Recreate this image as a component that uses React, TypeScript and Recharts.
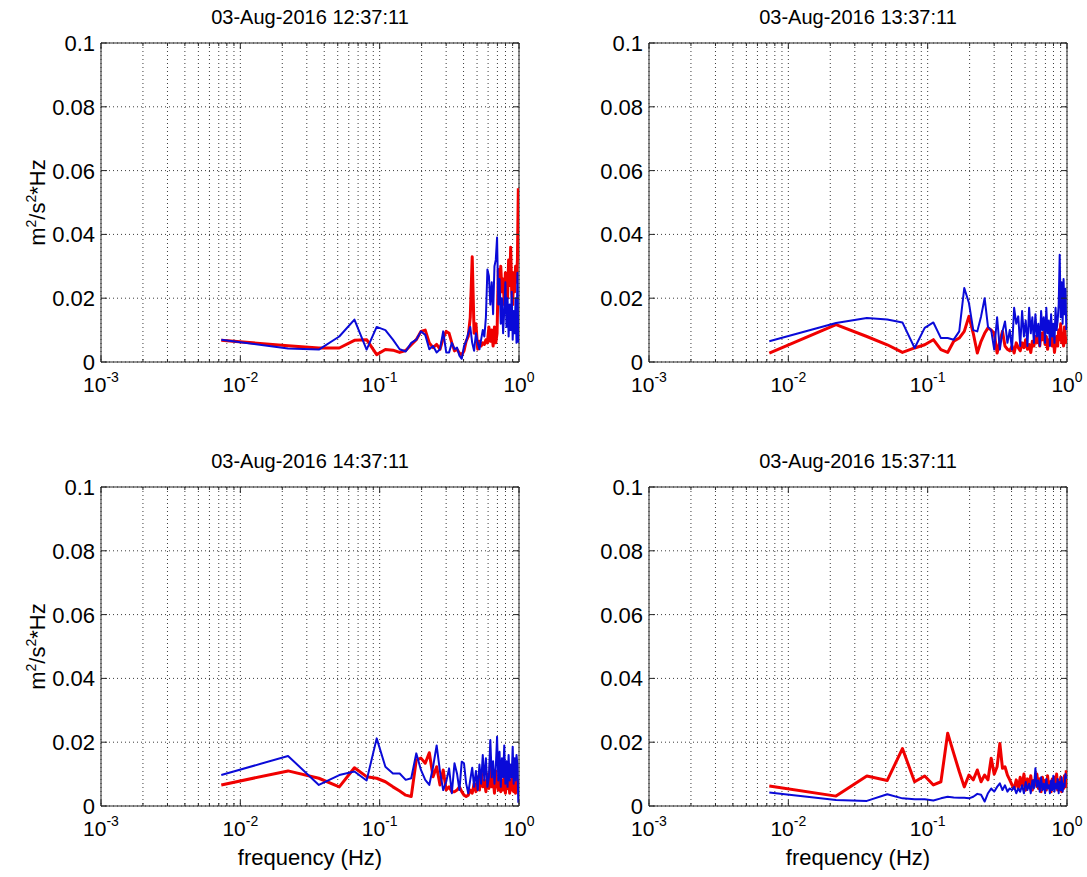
import React from 'react'
import { LineChart, Line, XAxis, YAxis, CartesianGrid, ReferenceArea } from 'recharts'

/* ── data: spectral density per frequency bin (Hz) ─────────────── */
const FREQ = [
  0.0073, 0.0220, 0.0366, 0.0513, 0.0659, 0.0806, 0.0952, 0.1099, 0.1245, 0.1392,
  0.1538, 0.1685, 0.1831, 0.1978, 0.2124, 0.2271, 0.2417, 0.2564, 0.2710, 0.2857,
  0.3003, 0.3150, 0.3296, 0.3443, 0.3589, 0.3736, 0.3882, 0.4029, 0.4175, 0.4322,
  0.4468, 0.4615, 0.4761, 0.4908, 0.5054, 0.5201, 0.5347, 0.5494, 0.5640, 0.5787,
  0.5933, 0.6080, 0.6226, 0.6373, 0.6519, 0.6666, 0.6812, 0.6959, 0.7105, 0.7252,
  0.7398, 0.7545, 0.7691, 0.7838, 0.7984, 0.8131, 0.8277, 0.8424, 0.8570, 0.8717,
  0.8863, 0.9010, 0.9156, 0.9303, 0.9449, 0.9596, 0.9742, 0.9889,
]

const RED_1237 = [
  0.0068, 0.0051, 0.0044, 0.0044, 0.0068, 0.0070, 0.0023, 0.0039, 0.0037, 0.0030,
  0.0036, 0.0054, 0.0070, 0.0096, 0.0100, 0.0060, 0.0045, 0.0055, 0.0040, 0.0075,
  0.0096, 0.0090, 0.0060, 0.0035, 0.0040, 0.0028, 0.0022, 0.0035, 0.0065, 0.0080,
  0.0140, 0.0330, 0.0090, 0.0120, 0.0040, 0.0065, 0.0050, 0.0060, 0.0055, 0.0070,
  0.0060, 0.0110, 0.0065, 0.0100, 0.0050, 0.0110, 0.0060, 0.0090, 0.0290, 0.0200,
  0.0300, 0.0220, 0.0260, 0.0180, 0.0280, 0.0260, 0.0200, 0.0320, 0.0240, 0.0360,
  0.0220, 0.0180, 0.0280, 0.0220, 0.0300, 0.0250, 0.0320, 0.0545,
]
const BLUE_1237 = [
  0.0070, 0.0042, 0.0039, 0.0080, 0.0133, 0.0039, 0.0110, 0.0100, 0.0070, 0.0040,
  0.0033, 0.0060, 0.0070, 0.0096, 0.0085, 0.0040, 0.0050, 0.0030, 0.0040, 0.0096,
  0.0030, 0.0030, 0.0060, 0.0040, 0.0045, 0.0020, 0.0010, 0.0050, 0.0065, 0.0090,
  0.0110, 0.0060, 0.0035, 0.0090, 0.0060, 0.0040, 0.0070, 0.0100, 0.0080, 0.0140,
  0.0290, 0.0270, 0.0180, 0.0250, 0.0150, 0.0300, 0.0320, 0.0390, 0.0180, 0.0260,
  0.0120, 0.0200, 0.0090, 0.0160, 0.0250, 0.0110, 0.0200, 0.0080, 0.0180, 0.0100,
  0.0220, 0.0070, 0.0160, 0.0090, 0.0200, 0.0060, 0.0280, 0.0060,
]

const RED_1337 = [
  0.0028, 0.0117, 0.0080, 0.0054, 0.0030, 0.0044, 0.0054, 0.0070, 0.0039, 0.0030,
  0.0065, 0.0075, 0.0096, 0.0143, 0.0090, 0.0028, 0.0065, 0.0090, 0.0107, 0.0100,
  0.0090, 0.0028, 0.0065, 0.0096, 0.0050, 0.0040, 0.0035, 0.0050, 0.0028, 0.0060,
  0.0045, 0.0035, 0.0060, 0.0045, 0.0070, 0.0040, 0.0055, 0.0030, 0.0065, 0.0050,
  0.0080, 0.0060, 0.0100, 0.0050, 0.0090, 0.0070, 0.0095, 0.0055, 0.0080, 0.0040,
  0.0070, 0.0060, 0.0090, 0.0050, 0.0075, 0.0030, 0.0060, 0.0080, 0.0050, 0.0100,
  0.0070, 0.0120, 0.0060, 0.0090, 0.0050, 0.0110, 0.0060, 0.0080,
]
const BLUE_1337 = [
  0.0065, 0.0122, 0.0138, 0.0133, 0.0124, 0.0044, 0.0107, 0.0124, 0.0075, 0.0075,
  0.0070, 0.0096, 0.0232, 0.0185, 0.0100, 0.0096, 0.0143, 0.0200, 0.0110, 0.0100,
  0.0039, 0.0140, 0.0039, 0.0096, 0.0127, 0.0060, 0.0100, 0.0039, 0.0170, 0.0120,
  0.0143, 0.0050, 0.0160, 0.0080, 0.0130, 0.0050, 0.0170, 0.0090, 0.0140, 0.0060,
  0.0150, 0.0080, 0.0120, 0.0050, 0.0160, 0.0100, 0.0140, 0.0060, 0.0170, 0.0090,
  0.0130, 0.0050, 0.0150, 0.0080, 0.0120, 0.0060, 0.0170, 0.0100, 0.0130, 0.0180,
  0.0336, 0.0140, 0.0250, 0.0120, 0.0260, 0.0150, 0.0230, 0.0100,
]

const RED_1437 = [
  0.0066, 0.0110, 0.0087, 0.0060, 0.0120, 0.0092, 0.0087, 0.0076, 0.0060, 0.0047,
  0.0034, 0.0030, 0.0144, 0.0150, 0.0134, 0.0167, 0.0092, 0.0123, 0.0066, 0.0113,
  0.0050, 0.0060, 0.0045, 0.0045, 0.0050, 0.0060, 0.0045, 0.0034, 0.0030, 0.0034,
  0.0050, 0.0040, 0.0070, 0.0045, 0.0090, 0.0050, 0.0110, 0.0060, 0.0080, 0.0045,
  0.0100, 0.0055, 0.0130, 0.0060, 0.0090, 0.0040, 0.0110, 0.0070, 0.0050, 0.0090,
  0.0045, 0.0080, 0.0050, 0.0100, 0.0040, 0.0070, 0.0055, 0.0090, 0.0040, 0.0080,
  0.0050, 0.0100, 0.0045, 0.0070, 0.0040, 0.0090, 0.0060, 0.0080,
]
const BLUE_1437 = [
  0.0097, 0.0157, 0.0066, 0.0097, 0.0108, 0.0080, 0.0212, 0.0123, 0.0102, 0.0102,
  0.0082, 0.0087, 0.0165, 0.0113, 0.0082, 0.0066, 0.0123, 0.0190, 0.0108, 0.0050,
  0.0076, 0.0118, 0.0040, 0.0134, 0.0102, 0.0050, 0.0139, 0.0134, 0.0071, 0.0040,
  0.0082, 0.0120, 0.0060, 0.0110, 0.0050, 0.0130, 0.0070, 0.0160, 0.0080, 0.0150,
  0.0060, 0.0090, 0.0207, 0.0090, 0.0140, 0.0070, 0.0120, 0.0217, 0.0080, 0.0170,
  0.0060, 0.0150, 0.0090, 0.0190, 0.0070, 0.0140, 0.0060, 0.0160, 0.0080, 0.0130,
  0.0090, 0.0186, 0.0070, 0.0150, 0.0080, 0.0160, 0.0130, 0.0010,
]

const RED_1537 = [
  0.0063, 0.0031, 0.0094, 0.0080, 0.0180, 0.0076, 0.0094, 0.0066, 0.0076, 0.0228,
  0.0165, 0.0108, 0.0060, 0.0097, 0.0082, 0.0113, 0.0076, 0.0097, 0.0082, 0.0150,
  0.0100, 0.0123, 0.0196, 0.0118, 0.0123, 0.0097, 0.0082, 0.0066, 0.0055, 0.0082,
  0.0055, 0.0090, 0.0060, 0.0100, 0.0050, 0.0085, 0.0060, 0.0095, 0.0050, 0.0080,
  0.0065, 0.0100, 0.0055, 0.0085, 0.0045, 0.0090, 0.0060, 0.0080, 0.0050, 0.0095,
  0.0060, 0.0075, 0.0045, 0.0085, 0.0055, 0.0090, 0.0060, 0.0100, 0.0050, 0.0080,
  0.0060, 0.0090, 0.0045, 0.0070, 0.0055, 0.0095, 0.0060, 0.0112,
]
const BLUE_1537 = [
  0.0042, 0.0019, 0.0016, 0.0037, 0.0024, 0.0021, 0.0021, 0.0017, 0.0024, 0.0029,
  0.0027, 0.0026, 0.0026, 0.0024, 0.0029, 0.0038, 0.0035, 0.0014, 0.0040, 0.0055,
  0.0045, 0.0060, 0.0071, 0.0050, 0.0065, 0.0045, 0.0055, 0.0050, 0.0060, 0.0040,
  0.0055, 0.0045, 0.0065, 0.0040, 0.0075, 0.0050, 0.0070, 0.0040, 0.0080, 0.0055,
  0.0118, 0.0060, 0.0080, 0.0045, 0.0090, 0.0050, 0.0070, 0.0040, 0.0085, 0.0055,
  0.0065, 0.0040, 0.0080, 0.0050, 0.0095, 0.0045, 0.0070, 0.0055, 0.0085, 0.0040,
  0.0075, 0.0050, 0.0090, 0.0045, 0.0070, 0.0060, 0.0100, 0.0085,
]

const TITLES = ['03-Aug-2016 12:37:11', '03-Aug-2016 13:37:11', '03-Aug-2016 14:37:11', '03-Aug-2016 15:37:11']

// log axis: minor ticks 1..9 x 10^k, labels only on decades
const X_TICKS = [
  0.001, 0.002, 0.003, 0.004, 0.005, 0.006, 0.007, 0.008, 0.009,
  0.01, 0.02, 0.03, 0.04, 0.05, 0.06, 0.07, 0.08, 0.09,
  0.1, 0.2, 0.3, 0.4, 0.5, 0.6, 0.7, 0.8, 0.9, 1,
]
const Y_TICKS = [0, 0.02, 0.04, 0.06, 0.08, 0.1]

/* ── styles ─────────────────────────────────────────────────────── */
const FONT = '"Liberation Sans", Arial, Helvetica, sans-serif'
const AXIS = '#262626'
const GRID = '#3c3c3c'
const RED = '#f00000'
const BLUE = '#0a0ad8'

const PLOT_W = 418
const PLOT_H = 319
const MARGIN = { top: 43, right: 21, left: 41, bottom: 48 }
const Y_AXIS_W = 60
const X_AXIS_H = 30
const CHART_W = MARGIN.left + Y_AXIS_W + PLOT_W + MARGIN.right
const CHART_H = MARGIN.top + PLOT_H + X_AXIS_H + MARGIN.bottom
const PLOT_LEFT = MARGIN.left + Y_AXIS_W

function XTick({ x, y, payload }: any) {
  const v: number = payload.value
  const exp = Math.round(Math.log10(v))
  const major = Math.abs(Math.log10(v) - exp) < 1e-6
  const len = major ? 6 : 3
  return (
    <g>
      <line x1={x} x2={x} y1={y} y2={y - len} stroke={AXIS} />
      <line x1={x} x2={x} y1={y - PLOT_H} y2={y - PLOT_H + len} stroke={AXIS} />
      {major && (
        <text x={x} y={y + 30} textAnchor="middle" fontSize={21} fontFamily={FONT} fill="#000">
          <tspan>10</tspan>
          <tspan dy={-10} fontSize={14}>{exp}</tspan>
        </text>
      )}
    </g>
  )
}

function YTick({ x, y, payload }: any) {
  return (
    <g>
      <line x1={x} x2={x + 6} y1={y} y2={y} stroke={AXIS} />
      <line x1={x + PLOT_W} x2={x + PLOT_W - 6} y1={y} y2={y} stroke={AXIS} />
      <text x={x - 6} y={y} dy={8} textAnchor="end" fontSize={22} fontFamily={FONT} fill="#000">
        {String(payload.value)}
      </text>
    </g>
  )
}

// rotated y label drawn in svg so the superscripts stay on the same baseline
function YLabel({ cx, cy }: { cx: number; cy: number }) {
  return (
    <svg style={{ position: 'absolute', left: 0, top: 0, overflow: 'visible' }} width={1} height={1}>
      <text
        transform={`translate(${cx},${cy}) rotate(-90)`}
        textAnchor="middle" fontSize={22} fontFamily={FONT} fill="#000"
      >
        <tspan>m</tspan>
        <tspan dy={-9} fontSize={14}>2</tspan>
        <tspan dy={9}>/s</tspan>
        <tspan dy={-9} fontSize={14}>2</tspan>
        <tspan dy={9}>*Hz</tspan>
      </text>
    </svg>
  )
}

interface PanelProps {
  left: number
  top: number
  title: string
  red: number[]
  blue: number[]
  yLabel?: boolean
  xLabel?: boolean
}

function Panel({ left, top, title, red, blue, yLabel, xLabel }: PanelProps) {
  const data = FREQ.map((f, i) => ({ f, red: red[i], blue: blue[i] }))
  return (
    <>
      <div
        style={{
          position: 'absolute', left: left + PLOT_LEFT, top: top + 5, width: PLOT_W,
          textAlign: 'center', fontFamily: FONT, fontSize: 20, lineHeight: '24px', color: '#000',
        }}
      >
        {title}
      </div>
      {yLabel && <YLabel cx={left + 45} cy={top + MARGIN.top + PLOT_H / 2} />}
      {xLabel && (
        <div
          style={{
            position: 'absolute', left: left + PLOT_LEFT, top: top + MARGIN.top + PLOT_H + 39,
            width: PLOT_W, textAlign: 'center', fontFamily: FONT, fontSize: 22,
            lineHeight: '26px', color: '#000',
          }}
        >
          frequency (Hz)
        </div>
      )}
      <div style={{ position: 'absolute', left, top }}>
        <LineChart width={CHART_W} height={CHART_H} data={data} margin={MARGIN}>
          <CartesianGrid stroke={GRID} strokeDasharray="1 3" />
          <XAxis
            dataKey="f" type="number" scale="log" domain={[0.001, 1]} allowDataOverflow
            ticks={X_TICKS} interval={0} height={X_AXIS_H} tickSize={0} tickMargin={0}
            tickLine={false} axisLine={false} tick={<XTick />}
          />
          <YAxis
            type="number" domain={[0, 0.1]} allowDataOverflow ticks={Y_TICKS} interval={0}
            width={Y_AXIS_W} tickSize={0} tickMargin={0} tickLine={false} axisLine={false}
            tick={<YTick />}
          />
          <Line type="linear" dataKey="red" stroke={RED} strokeWidth={3} dot={false}
            strokeLinejoin="round" isAnimationActive={false} />
          <Line type="linear" dataKey="blue" stroke={BLUE} strokeWidth={2} dot={false}
            strokeLinejoin="round" isAnimationActive={false} />
          <ReferenceArea x1={0.001} x2={1} y1={0} y2={0.1} fill="none" stroke={AXIS}
            strokeWidth={1} fillOpacity={0} ifOverflow="visible" />
        </LineChart>
      </div>
    </>
  )
}

export default function App() {
  return (
    <div style={{ position: 'absolute', left: 0, top: 0, width: 1087, height: 877, background: '#fff' }}>
      <Panel left={0} top={0} title={TITLES[0]} red={RED_1237} blue={BLUE_1237} yLabel />
      <Panel left={548} top={0} title={TITLES[1]} red={RED_1337} blue={BLUE_1337} />
      <Panel left={0} top={444} title={TITLES[2]} red={RED_1437} blue={BLUE_1437} yLabel xLabel />
      <Panel left={548} top={444} title={TITLES[3]} red={RED_1537} blue={BLUE_1537} xLabel />
    </div>
  )
}
